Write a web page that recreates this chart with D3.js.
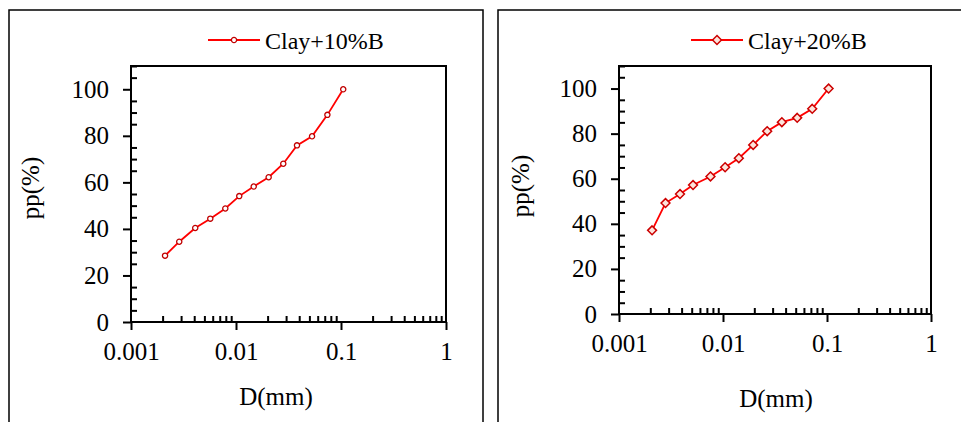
<!DOCTYPE html>
<html>
<head>
<meta charset="utf-8">
<script src="https://cdn.jsdelivr.net/npm/d3@7"></script>
<style>
  body { margin: 0; background: #fff; }
  svg { display: block; }
  text { font-family: "Liberation Serif", "Times New Roman", serif; fill: #000; }
</style>
</head>
<body>
<svg id="chart" width="961" height="422"></svg>
<script>
// grain size data
var d10 = [0.00211, 0.00288, 0.00409, 0.00569, 0.00791, 0.01074, 0.01475, 0.02047, 0.0282, 0.0381, 0.053, 0.0742, 0.105];
var pp10 = [28.5, 34.5, 40.4, 44.4, 48.8, 54.1, 58.2, 62.2, 68.0, 75.9, 79.8, 89.0, 100];
var d20 = [0.00208, 0.0028, 0.00386, 0.00515, 0.00758, 0.01048, 0.0142, 0.0195, 0.0266, 0.0368, 0.0517, 0.0721, 0.1036];
var pp20 = [37.1, 49.2, 53.2, 57.2, 61.0, 65.1, 69.1, 75.0, 81.1, 85.1, 87.0, 91.0, 100];
var xTicks = [0.001, 0.01, 0.1, 1];
var xTickLabels = ["0.001", "0.01", "0.1", "1"];
var yTicks = [0, 20, 40, 60, 80, 100];
var seriesNames = ["Clay+10%B", "Clay+20%B"];

var svg = d3.select("#chart");
var FS = 25;

// every 2..9 between decades
var minorX = [];
[0.001, 0.01, 0.1].forEach(function(p) {
  for (var k = 2; k <= 9; k++) minorX.push(p * k);
});
var minorY = d3.range(0, 111, 5).filter(function(v) { return v % 20 !== 0; });

var panels = [
  { frame: [9, 10, 474, 420], plot: { l: 131, t: 66, r: 446, b: 322 },
    xs: d10, ys: pp10, name: seriesNames[0], marker: "circle",
    legend: { x1: 208, x2: 260, y: 40 }, yTitle: { x: 39, y: 188 }, xTitle: { x: 276, y: 405 } },
  { frame: [498, 10, 470, 420], plot: { l: 619, t: 66, r: 931, b: 314 },
    xs: d20, ys: pp20, name: seriesNames[1], marker: "diamond",
    legend: { x1: 691, x2: 743, y: 40 }, yTitle: { x: 529, y: 186 }, xTitle: { x: 776, y: 407 } }
];

panels.forEach(function(p) {
  svg.append("rect")
    .attr("x", p.frame[0]).attr("y", p.frame[1])
    .attr("width", p.frame[2]).attr("height", p.frame[3])
    .attr("fill", "none").attr("stroke", "#000").attr("stroke-width", 1.5);

  var x = d3.scaleLog().domain([0.001, 1]).range([p.plot.l, p.plot.r]);
  var y = d3.scaleLinear().domain([0, 110]).range([p.plot.b, p.plot.t]);

  var g = svg.append("g");

  // minor ticks point inward
  g.append("g").attr("transform", "translate(0," + p.plot.b + ")")
    .call(d3.axisBottom(x).tickValues(minorX).tickSize(-6).tickFormat(""))
    .call(function(a) { a.select(".domain").remove(); a.selectAll("line").attr("stroke-width", 2); });
  g.append("g").attr("transform", "translate(" + p.plot.l + ",0)")
    .call(d3.axisLeft(y).tickValues(minorY).tickSize(-6).tickFormat(""))
    .call(function(a) { a.select(".domain").remove(); a.selectAll("line").attr("stroke-width", 2); });

  // major ticks point outward
  var xa = g.append("g").attr("transform", "translate(0," + p.plot.b + ")")
    .call(d3.axisBottom(x).tickValues(xTicks).tickSize(8).tickPadding(12)
      .tickFormat(function(d, i) { return xTickLabels[i]; }));
  xa.select(".domain").remove();
  xa.attr("font-size", FS);
  xa.selectAll("line").attr("stroke-width", 2);
  xa.selectAll("text").attr("font-size", FS).attr("fill", "#000");

  var ya = g.append("g").attr("transform", "translate(" + p.plot.l + ",0)")
    .call(d3.axisLeft(y).tickValues(yTicks).tickSize(8).tickPadding(14));
  ya.select(".domain").remove();
  ya.attr("font-size", FS);
  ya.selectAll("line").attr("stroke-width", 2);
  ya.selectAll("text").attr("font-size", FS).attr("fill", "#000");

  // plot frame
  g.append("rect")
    .attr("x", p.plot.l).attr("y", p.plot.t)
    .attr("width", p.plot.r - p.plot.l).attr("height", p.plot.b - p.plot.t)
    .attr("fill", "none").attr("stroke", "#000").attr("stroke-width", 2);

  // series line
  var pts = p.xs.map(function(d, i) { return [d, p.ys[i]]; });
  var line = d3.line().x(function(d) { return x(d[0]); }).y(function(d) { return y(d[1]); });
  g.append("path").datum(pts).attr("d", line)
    .attr("fill", "none").attr("stroke", "#ff0000").attr("stroke-width", 1.8);

  function drawMarker(sel) {
    if (p.marker === "circle") {
      sel.append("circle").attr("r", 2.6)
        .attr("fill", "#fff").attr("stroke", "#c00000").attr("stroke-width", 1.3);
    } else {
      sel.append("path").attr("d", d3.symbol().type(d3.symbolDiamond2).size(50)())
        .attr("fill", "#fde4dc").attr("stroke", "#cc0000").attr("stroke-width", 1.5);
    }
  }

  g.selectAll(".pt").data(pts).enter().append("g")
    .attr("class", "pt")
    .attr("transform", function(d) { return "translate(" + x(d[0]) + "," + y(d[1]) + ")"; })
    .each(function() { drawMarker(d3.select(this)); });

  // legend
  g.append("line")
    .attr("x1", p.legend.x1).attr("x2", p.legend.x2)
    .attr("y1", p.legend.y).attr("y2", p.legend.y)
    .attr("stroke", "#ff0000").attr("stroke-width", 1.8);
  var lm = g.append("g").attr("transform", "translate(" + ((p.legend.x1 + p.legend.x2) / 2) + "," + p.legend.y + ")");
  drawMarker(lm);
  g.append("text").attr("x", p.legend.x2 + 5).attr("y", p.legend.y + 9)
    .attr("font-size", 24).text(p.name);

  // axis titles
  g.append("text")
    .attr("transform", "translate(" + p.yTitle.x + "," + p.yTitle.y + ") rotate(-90)")
    .attr("text-anchor", "middle").attr("font-size", FS).text("pp(%)");
  g.append("text").attr("x", p.xTitle.x).attr("y", p.xTitle.y)
    .attr("text-anchor", "middle").attr("font-size", FS).text("D(mm)");
});
</script>
</body>
</html>
